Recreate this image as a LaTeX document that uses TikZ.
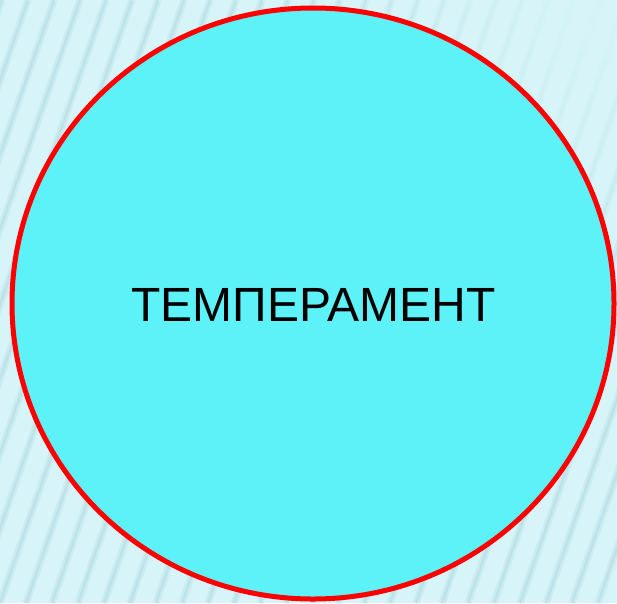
\documentclass[tikz,border=0pt]{standalone}
\usepackage{fontspec}
\setmainfont{Liberation Sans}
\usetikzlibrary{shapes.geometric,fadings}
\definecolor{bgcol}{HTML}{D7F5F9}
\definecolor{stripecol}{HTML}{B4DCE2}
\definecolor{fillcol}{HTML}{5CF2F8}
\definecolor{ringcol}{HTML}{FF0000}
\tikzset{
  stripewide/.style={draw=stripecol, line width=7pt, opacity=0.35},
  stripecore/.style={draw=stripecol, line width=2.5pt, opacity=0.55},
  ring/.style={ellipse, draw=ringcol, line width=5pt, fill=fillcol, minimum width=602pt, minimum height=591pt, inner sep=0pt},
}
\tikzfading[name=cornerfade, inner color=transparent!0, outer color=transparent!100]
\begin{document}
\begin{tikzpicture}[x=1pt,y=-1pt]
\useasboundingbox (0,0) rectangle (617,603);
\fill[bgcol] (0,0) rectangle (617,603);
\begin{scope}
\clip (0,0) rectangle (617,603);
\foreach \i in {-12,...,30}{
  \draw[stripewide] ({\i*26},603) -- ({\i*26+210},0);
  \draw[stripecore] ({\i*26},603) -- ({\i*26+210},0);
}
\fill[bgcol, path fading=cornerfade] (600,20) circle (330);
\end{scope}
\node[ring] (circ) at (313,303.5) {};
\node[font=\fontsize{48}{56}\selectfont, text=black] (lbl) at (313.5,305) {ТЕМПЕРАМЕНТ};
\end{tikzpicture}
\end{document}
